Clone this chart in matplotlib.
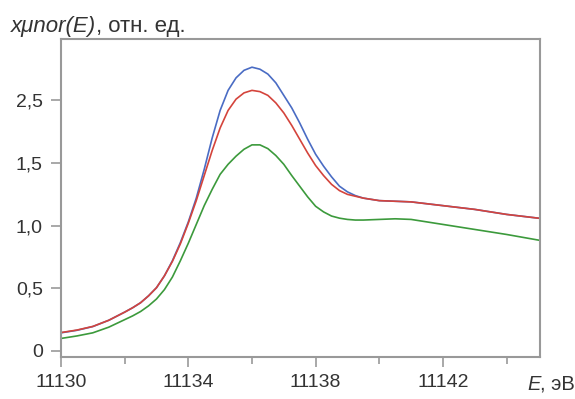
import matplotlib
matplotlib.use("Agg")
import matplotlib.pyplot as plt
from matplotlib.ticker import MultipleLocator

plt.rcParams['font.family'] = ['Liberation Sans', 'DejaVu Sans']

energy = [11130, 11130.5, 11131, 11131.5, 11132, 11132.25, 11132.5, 11132.75,
          11133, 11133.25, 11133.5, 11133.75, 11134, 11134.25, 11134.5, 11134.75,
          11135, 11135.25, 11135.5, 11135.75, 11136, 11136.25, 11136.5, 11136.75,
          11137, 11137.25, 11137.5, 11137.75, 11138, 11138.25, 11138.5, 11138.75,
          11139, 11139.25, 11139.5, 11140, 11140.5, 11141, 11142, 11143, 11144, 11145]
blue = [0.145, 0.165, 0.195, 0.245, 0.31, 0.345, 0.385, 0.44,
        0.505, 0.60, 0.72, 0.865, 1.03, 1.22, 1.45, 1.70,
        1.92, 2.08, 2.18, 2.24, 2.265, 2.249, 2.21, 2.14,
        2.04, 1.94, 1.82, 1.69, 1.57, 1.475, 1.39, 1.315,
        1.27, 1.24, 1.22, 1.20, 1.195, 1.19, 1.16, 1.13, 1.09, 1.06]
red = [0.147, 0.167, 0.196, 0.245, 0.31, 0.345, 0.385, 0.44,
       0.505, 0.60, 0.715, 0.855, 1.02, 1.20, 1.40, 1.60,
       1.78, 1.92, 2.01, 2.06, 2.08, 2.07, 2.04, 1.98,
       1.90, 1.80, 1.69, 1.58, 1.48, 1.40, 1.33, 1.28,
       1.25, 1.235, 1.22, 1.20, 1.195, 1.19, 1.16, 1.13, 1.09, 1.06]
green = [0.10, 0.12, 0.145, 0.19, 0.25, 0.28, 0.315, 0.36,
         0.415, 0.49, 0.59, 0.72, 0.86, 1.01, 1.16, 1.29,
         1.41, 1.49, 1.555, 1.61, 1.645, 1.645, 1.615, 1.56,
         1.49, 1.40, 1.315, 1.23, 1.155, 1.11, 1.077, 1.06,
         1.05, 1.045, 1.045, 1.05, 1.055, 1.05, 1.01, 0.97, 0.93, 0.885]

x_ticks = [11130, 11134, 11138, 11142]
y_ticks = [0, 0.5, 1.0, 1.5, 2.0]
y_tick_labels = ["0", "0,5", "1,0", "1,5", "2,5"]

fig = plt.figure(figsize=(5.75, 3.99), dpi=100)
ax = fig.add_axes([61/575, 1-357/399, (540-61)/575, (357-39)/399])

ax.plot(energy, green, color='#3c9a3c', lw=1.2)
ax.plot(energy, blue, color='#4a6cc4', lw=1.2)
ax.plot(energy, red, color='#d4443c', lw=1.2)

ax.set_xlim(11130, 11145.05)
ax.set_ylim(-0.048, 2.49)
ax.set_xticks(x_ticks)
ax.set_xticklabels([str(v) for v in x_ticks])
ax.xaxis.set_minor_locator(MultipleLocator(2))
ax.set_yticks(y_ticks)
ax.set_yticklabels(y_tick_labels)

for s in ax.spines.values():
    s.set_color('#999999')
    s.set_linewidth(1.5)
ax.tick_params(axis='both', which='major', direction='out', length=7, width=1.2,
               color='#999999', labelsize=14, labelcolor='#333333')
ax.tick_params(axis='x', which='minor', direction='out', length=5, width=1.2,
               color='#999999')
ax.tick_params(axis='x', which='major', pad=5)
ax.tick_params(axis='y', which='major', pad=6)

fig.canvas.draw()
renderer = fig.canvas.get_renderer()

t1 = fig.text(11/575, 1-32/399, "xμnor(E)", fontsize=16, style='italic',
              color='#333333', ha='left', va='baseline')
bb = t1.get_window_extent(renderer)
fig.text(bb.x1 / fig.bbox.width, 1-32/399, ", отн. ед.", fontsize=16,
         color='#333333', ha='left', va='baseline')

t2 = fig.text(575/575, 1-390/399, ", эВ", fontsize=14.5,
              color='#333333', ha='right', va='baseline')
bb2 = t2.get_window_extent(renderer)
fig.text(bb2.x0 / fig.bbox.width, 1-390/399, "E", fontsize=14.5, style='italic',
         color='#333333', ha='right', va='baseline')

fig.savefig("out.png", dpi=100)
